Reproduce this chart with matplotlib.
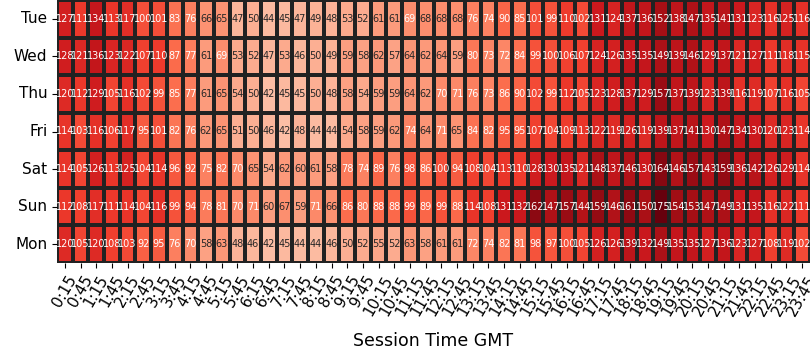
import numpy as np
import pandas as pd
import seaborn as sns
import matplotlib
matplotlib.use('Agg')
import matplotlib.pyplot as plt

days = ['Tue', 'Wed', 'Thu', 'Fri', 'Sat', 'Sun', 'Mon']
times = ['%d:%s' % (h, m) for h in range(24) for m in ('15', '45')]

tue = [127, 111, 134, 113, 117, 100, 101, 83, 76, 66, 65, 47, 50, 44, 45, 47, 49, 48, 53, 52, 61, 61, 69, 68,
       68, 68, 76, 74, 90, 85, 101, 99, 110, 102, 131, 124, 137, 136, 152, 138, 147, 135, 141, 131, 123, 116, 125, 116]
wed = [128, 121, 136, 123, 122, 107, 110, 87, 77, 61, 69, 53, 52, 47, 53, 46, 50, 49, 59, 58, 62, 57, 64, 62,
       64, 59, 80, 73, 72, 84, 99, 100, 106, 107, 124, 126, 135, 135, 149, 139, 146, 129, 137, 121, 127, 111, 118, 115]
thu = [120, 112, 129, 105, 116, 102, 99, 85, 77, 61, 65, 54, 50, 42, 45, 45, 50, 48, 58, 54, 59, 59, 64, 62,
       70, 71, 76, 73, 86, 90, 102, 99, 112, 105, 123, 128, 137, 129, 157, 137, 139, 123, 139, 116, 119, 107, 116, 105]
fri = [114, 103, 116, 106, 117, 95, 101, 82, 76, 62, 65, 51, 50, 46, 42, 48, 44, 44, 54, 58, 59, 62, 74, 64,
       71, 65, 84, 82, 95, 95, 107, 104, 109, 113, 122, 119, 126, 119, 139, 137, 141, 130, 147, 134, 130, 120, 123, 114]
sat = [114, 105, 126, 113, 125, 104, 114, 96, 92, 75, 82, 70, 65, 54, 62, 60, 61, 58, 78, 74, 89, 76, 98, 86,
       100, 94, 108, 104, 113, 110, 128, 130, 135, 121, 148, 137, 146, 130, 164, 146, 157, 143, 159, 136, 142, 126, 129, 114]
sun = [112, 108, 117, 111, 114, 104, 116, 99, 94, 78, 81, 70, 71, 60, 67, 59, 71, 66, 86, 80, 88, 88, 99, 89,
       99, 88, 114, 108, 131, 132, 162, 147, 157, 144, 159, 146, 161, 150, 175, 154, 153, 147, 149, 131, 135, 116, 122, 111]
mon = [120, 105, 120, 108, 103, 92, 95, 76, 70, 58, 63, 48, 46, 42, 45, 44, 44, 46, 50, 52, 55, 52, 63, 58,
       61, 61, 72, 74, 82, 81, 98, 97, 100, 105, 126, 126, 139, 132, 149, 135, 135, 127, 136, 123, 127, 108, 119, 102]

df = pd.DataFrame([tue, wed, thu, fri, sat, sun, mon], index=days, columns=times)

fig = plt.figure(figsize=(8.1, 3.6), dpi=100)
ax = fig.add_axes([57 / 810, 1 - 263 / 360, 753 / 810, 263 / 360])

sns.heatmap(df, ax=ax, cmap='Reds', vmin=0, annot=True, fmt='d', cbar=False,
            linewidths=1.5, linecolor='#222222', annot_kws={'fontsize': 7})

ax.set_xlabel('Session Time GMT', fontsize=12.5, labelpad=10)
ax.set_ylabel('')
ax.set_xticks(np.arange(len(times)) + 0.5)
ax.set_xticklabels(times, rotation=60, fontsize=11)
ax.set_yticklabels(days, rotation=0, fontsize=11)

fig.savefig('out.png', dpi=100)
